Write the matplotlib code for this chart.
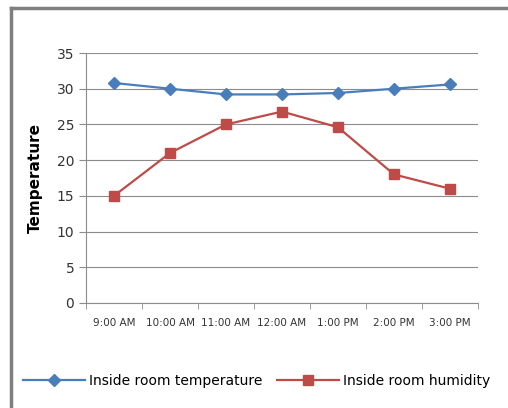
import matplotlib.pyplot as plt
from matplotlib.lines import Line2D

# Data
times = ['9:00 AM', '10:00 AM', '11:00 AM', '12:00 AM', '1:00 PM', '2:00 PM', '3:00 PM']
temperature = [30.8, 30.0, 29.2, 29.2, 29.4, 30.0, 30.6]
humidity = [15.0, 21.0, 25.0, 26.8, 24.6, 18.0, 16.0]

blue = '#4A7EBB'
red = '#BE4B48'
grid_col = '#8C8C8C'

fig = plt.figure(figsize=(5.08, 4.08), dpi=100)
fig.patch.set_facecolor('white')

# chart frame (left and top edges visible)
fig.add_artist(Line2D([11 / 508, 11 / 508], [0, 1 - 8 / 408], transform=fig.transFigure,
                      color='#7F7F7F', lw=2.5))
fig.add_artist(Line2D([11 / 508, 1], [1 - 8 / 408, 1 - 8 / 408], transform=fig.transFigure,
                      color='#7F7F7F', lw=2.5))

ax = fig.add_axes([86 / 508, 105 / 408, 392 / 508, 250 / 408])
x = range(len(times))
ax.plot(x, temperature, color=blue, lw=1.6, marker='D', ms=6.5, label='Inside room temperature')
ax.plot(x, humidity, color=red, lw=1.6, marker='s', ms=7.5, label='Inside room humidity')

ax.set_xlim(-0.5, len(times) - 0.5)
ax.set_ylim(0, 35)
ax.set_yticks(range(0, 36, 5))
ax.yaxis.grid(True, color=grid_col, lw=0.8)
ax.set_axisbelow(True)

ax.set_xticks(list(x))
ax.set_xticklabels(times, fontsize=7.5, color='#333333')
ax.set_xticks([i - 0.5 for i in range(len(times) + 1)], minor=True)
ax.tick_params(axis='x', which='major', length=0, pad=11)
ax.tick_params(axis='x', which='minor', length=4, color=grid_col, direction='out')
ax.tick_params(axis='y', length=5, color=grid_col, labelsize=10, labelcolor='#333333')

for s in ['top', 'right']:
    ax.spines[s].set_visible(False)
ax.spines['left'].set_color(grid_col)
ax.spines['bottom'].set_color(grid_col)

ax.set_ylabel('Temperature', fontsize=11, fontweight='bold', labelpad=10)

fig.legend(loc='center', bbox_to_anchor=(0.505, 1 - 381 / 408), ncol=2, frameon=False,
           fontsize=10, handlelength=4.5, columnspacing=1.0, handletextpad=0.3)

fig.savefig('out.png', dpi=100)
